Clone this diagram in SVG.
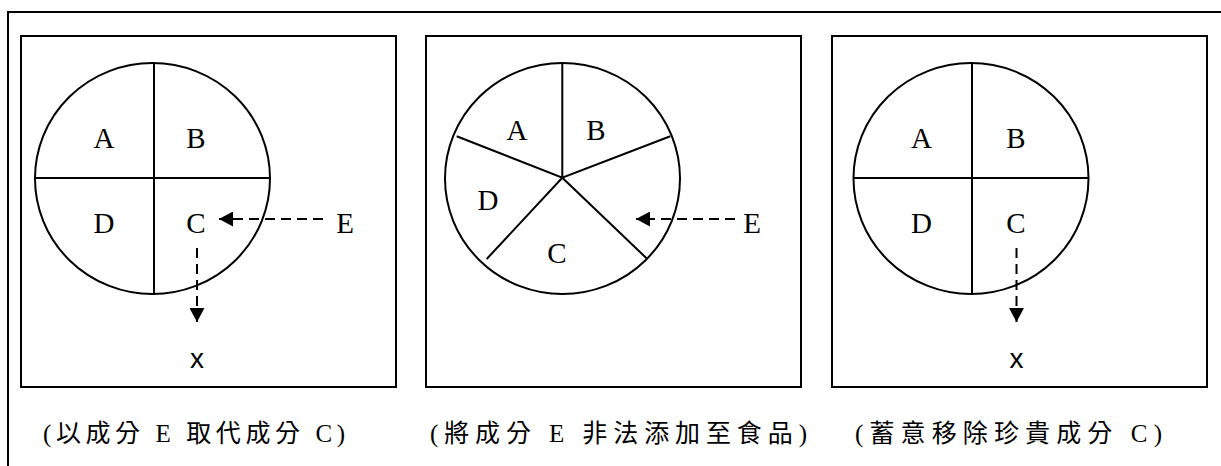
<svg xmlns="http://www.w3.org/2000/svg" width="1221" height="466" viewBox="0 0 1221 466">
<defs>
<style>
.frame{fill:none;stroke:#000;stroke-width:2}
.ln{fill:none;stroke:#000;stroke-width:2}
.dash{fill:none;stroke:#000;stroke-width:2;stroke-dasharray:10 6}
.lbl{font-family:"Liberation Serif","Times New Roman",serif;font-size:29px;fill:#000;text-anchor:middle}
.cap{font-family:"Liberation Serif","Noto Sans CJK TC",serif;font-size:25px;fill:#000}
.xm{font-family:"Liberation Sans",Arial,sans-serif;font-size:28px;fill:#000;text-anchor:middle}
</style>
<marker id="ah" viewBox="0 0 14 15" refX="14" refY="7.5" markerWidth="14" markerHeight="15" orient="auto" markerUnits="userSpaceOnUse">
<path d="M0,0 L14,7.5 L0,15 Z" fill="#000" stroke="none"/>
</marker>
</defs>
<rect width="1221" height="466" fill="#fff"/>
<path class="frame" d="M8,466 V12 H1221" stroke="#222"/>

<g id="panel1">
<rect class="frame" x="21" y="36" width="375" height="351"/>
<ellipse class="ln" cx="152.5" cy="178.5" rx="117.5" ry="115.5"/>
<line class="ln" x1="154" y1="63" x2="154" y2="294"/>
<line class="ln" x1="35" y1="178" x2="270" y2="178"/>
<text class="lbl" x="104" y="148">A</text>
<text class="lbl" x="196" y="148">B</text>
<text class="lbl" x="104" y="233">D</text>
<text class="lbl" x="196" y="233">C</text>
<text class="lbl" x="345" y="233">E</text>
<text class="xm" x="197" y="368">x</text>
<text class="cap" x="43" y="442" textLength="302" lengthAdjust="spacing">(以成分 E 取代成分 C)</text>
</g>

<g id="panel2">
<rect class="frame" x="426" y="36" width="375" height="351"/>
<ellipse class="ln" cx="562.5" cy="178.5" rx="117.5" ry="115.5"/>
<path class="ln" d="M562.3,63.3 L562.3,177.7 M456.7,136.3 L562.3,177.7 L670.3,136.3 M486.7,259 L562.3,177.7 L647.3,259"/>
<text class="lbl" x="517" y="140">A</text>
<text class="lbl" x="596" y="140">B</text>
<text class="lbl" x="488" y="210">D</text>
<text class="lbl" x="557" y="263">C</text>
<text class="lbl" x="752" y="233">E</text>
<text class="cap" x="430" y="442" textLength="377" lengthAdjust="spacing">(將成分 E 非法添加至食品)</text>
</g>

<g id="panel3">
<rect class="frame" x="832" y="36" width="375" height="351"/>
<ellipse class="ln" cx="971" cy="178.5" rx="117.5" ry="115.5"/>
<line class="ln" x1="972" y1="63" x2="972" y2="294"/>
<line class="ln" x1="853" y1="178" x2="1089" y2="178"/>
<text class="lbl" x="921.5" y="148">A</text>
<text class="lbl" x="1016" y="148">B</text>
<text class="lbl" x="921.5" y="233">D</text>
<text class="lbl" x="1016" y="233">C</text>
<text class="xm" x="1016.5" y="368">x</text>
<text class="cap" x="855" y="442" textLength="307" lengthAdjust="spacing">(蓄意移除珍貴成分 C)</text>
</g>

<g id="connectors">
<line class="dash" x1="323" y1="219" x2="219" y2="219" marker-end="url(#ah)"/>
<line class="dash" x1="197" y1="248" x2="197" y2="322" marker-end="url(#ah)"/>
<line class="dash" x1="735" y1="219" x2="636" y2="219" marker-end="url(#ah)"/>
<line class="dash" x1="1016.5" y1="248" x2="1016.5" y2="322" marker-end="url(#ah)"/>
</g>
</svg>
